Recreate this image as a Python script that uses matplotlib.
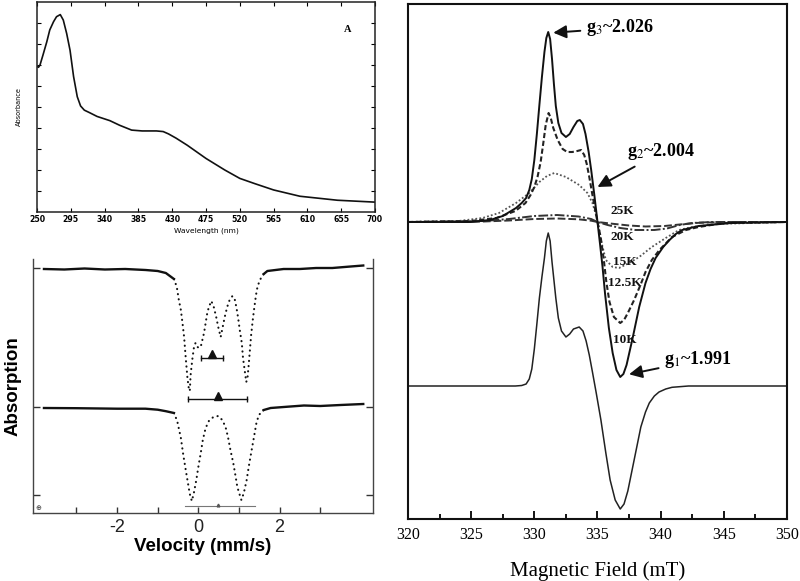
import matplotlib
matplotlib.use("Agg")
import matplotlib.pyplot as plt
import numpy as np

plt.rcParams["mathtext.fontset"] = "stix"

# ---------------- Panel A: UV-vis ----------------
uv_wavelength = [250, 252, 254, 258, 263, 267, 272, 276, 281, 285, 289.5, 294, 298.7,
                 303.6, 308, 313, 320, 330, 347, 360, 376, 390, 409, 418, 425, 435,
                 450, 475, 500, 520, 540, 565, 600, 650, 700]
uv_absorbance = [0.694, 0.689, 0.70, 0.748, 0.81, 0.867, 0.906, 0.93, 0.94, 0.914, 0.85,
                 0.77, 0.645, 0.549, 0.505, 0.485, 0.473, 0.455, 0.435, 0.413, 0.39,
                 0.386, 0.386, 0.383, 0.372, 0.352, 0.318, 0.255, 0.20, 0.16, 0.135,
                 0.105, 0.075, 0.056, 0.047]
uv_xticks = [250, 295, 340, 385, 430, 475, 520, 565, 610, 655, 700]

# ---------------- Panel B: Mossbauer ----------------
mb_top_base_left_v = [-3.8, -3.3, -2.8, -2.3, -1.8, -1.3, -1.0, -0.8, -0.6]
mb_top_base_left_y = [0.0, -0.005, 0.005, -0.005, 0.0, -0.01, -0.02, -0.04, -0.10]
mb_top_dip_v = [-0.60, -0.53, -0.48, -0.43, -0.39, -0.35, -0.31, -0.27, -0.24, -0.21,
                -0.19, -0.15, -0.11, -0.07, -0.02, 0.02, 0.07, 0.14, 0.18, 0.22, 0.26,
                0.32, 0.38, 0.44, 0.49, 0.55, 0.60, 0.65, 0.71, 0.77, 0.84, 0.90, 0.94,
                0.98, 1.02, 1.07, 1.10, 1.14, 1.18, 1.21, 1.24, 1.27, 1.30, 1.34, 1.38,
                1.42, 1.46, 1.53, 1.61]
mb_top_dip_y = [-0.10, -0.18, -0.31, -0.41, -0.54, -0.68, -0.89, -1.08, -1.18, -1.22,
                -1.06, -0.91, -0.79, -0.74, -0.78, -0.79, -0.76, -0.64, -0.54, -0.44,
                -0.38, -0.32, -0.38, -0.48, -0.58, -0.68, -0.58, -0.48, -0.38, -0.31,
                -0.27, -0.31, -0.39, -0.49, -0.61, -0.74, -0.89, -1.01, -1.13, -1.09,
                -0.96, -0.81, -0.66, -0.51, -0.38, -0.26, -0.17, -0.10, -0.05]
mb_top_base_right_v = [1.61, 1.7, 2.1, 2.5, 2.9, 3.3, 3.75, 4.06]
mb_top_base_right_y = [-0.05, -0.02, 0.0, 0.0, 0.01, 0.01, 0.025, 0.035]

mb_bot_base_left_v = [-3.8, -3.0, -2.0, -1.3, -1.0, -0.8, -0.6]
mb_bot_base_left_y = [0.0, -0.002, -0.007, -0.007, -0.017, -0.032, -0.05]
mb_bot_dip_v = [-0.60, -0.52, -0.43, -0.37, -0.31, -0.26, -0.21, -0.16, -0.11, -0.05,
                0.00, 0.06, 0.11, 0.18, 0.26, 0.37, 0.49, 0.59, 0.67, 0.73, 0.79, 0.86,
                0.92, 0.96, 1.02, 1.06, 1.12, 1.19, 1.24, 1.30, 1.37, 1.43, 1.49, 1.61]
mb_bot_dip_y = [-0.05, -0.13, -0.30, -0.47, -0.62, -0.74, -0.86, -0.93, -0.85, -0.72,
                -0.59, -0.45, -0.32, -0.20, -0.13, -0.09, -0.08, -0.12, -0.19, -0.29,
                -0.42, -0.55, -0.69, -0.79, -0.87, -0.92, -0.85, -0.72, -0.59, -0.45,
                -0.29, -0.15, -0.07, -0.02]
mb_bot_base_right_v = [1.61, 1.78, 2.2, 2.6, 3.0, 3.5, 4.06]
mb_bot_base_right_y = [-0.02, 0.0, 0.013, 0.025, 0.02, 0.03, 0.04]

mb_top_offset = 2.44
mb_bot_offset = 1.05
mb_doublet_center = [0.33, 0.48]
mb_doublet_qs = [0.55, 1.45]
mb_doublet_level = [1.553, 1.137]
mb_bottom_bar = [-0.32, 1.40]

# ---------------- Panel C: EPR ----------------
epr_10K_B = [320, 325, 326.5, 327.5, 328.55, 329.0, 329.35, 329.6, 329.8, 330.0, 330.2,
             330.4, 330.6, 330.8, 330.95, 331.1, 331.25, 331.4, 331.55, 331.7, 331.9,
             332.15, 332.5, 332.8, 333.1, 333.4, 333.6, 333.85, 334.05, 334.3, 334.5,
             334.75, 335.0, 335.2, 335.4, 335.6, 335.9, 336.2, 336.5, 336.8, 337.05,
             337.3, 337.8, 338.3, 338.8, 339.2, 339.6, 340.2, 340.7, 341.2, 341.7, 343,
             345.6, 350]
epr_10K_I = [0, 0, 0.02, 0.06, 0.14, 0.19, 0.24, 0.32, 0.43, 0.62, 0.88, 1.17, 1.45, 1.70,
             1.84, 1.90, 1.83, 1.63, 1.38, 1.16, 0.99, 0.89, 0.85, 0.88, 0.95, 1.01, 1.02,
             0.98, 0.88, 0.70, 0.52, 0.27, 0.0, -0.22, -0.45, -0.72, -1.06, -1.31, -1.48,
             -1.55, -1.52, -1.43, -1.15, -0.85, -0.61, -0.47, -0.36, -0.25, -0.18, -0.12,
             -0.08, -0.04, -0.01, 0]

epr_125K_B = [320, 325, 327, 328.5, 329.3, 329.7, 330.0, 330.25, 330.5, 330.7, 330.9,
              331.13, 331.3, 331.5, 331.85, 332.24, 332.6, 333.0, 333.4, 333.7, 333.95,
              334.15, 334.35, 334.6, 334.8, 335.0, 335.25, 335.5, 335.7, 335.95, 336.3,
              336.8, 337.1, 337.4, 337.9, 338.4, 338.8, 339.3, 339.9, 340.9, 342.0, 343,
              345, 350]
epr_125K_I = [0, 0.01, 0.04, 0.11, 0.19, 0.27, 0.35, 0.45, 0.60, 0.78, 0.97, 1.09, 1.04,
              0.94, 0.82, 0.73, 0.70, 0.70, 0.71, 0.72, 0.67, 0.58, 0.45, 0.27, 0.13, 0.0,
              -0.15, -0.38, -0.60, -0.80, -0.95, -1.01, -0.98, -0.91, -0.78, -0.63, -0.50,
              -0.38, -0.28, -0.15, -0.08, -0.05, -0.01, 0]

epr_15K_B = [320, 324, 325.9, 327.2, 328.55, 329.6, 330.4, 331.0, 331.58, 332.5, 333.55,
             334.2, 334.6, 335.0, 335.27, 335.66, 336.2, 336.7, 337.5, 338.3, 339.3,
             340.4, 341.45, 342.5, 344.35, 350]
epr_15K_I = [0, 0.01, 0.04, 0.09, 0.19, 0.29, 0.40, 0.46, 0.49, 0.45, 0.37, 0.29, 0.19,
             0.02, -0.18, -0.38, -0.45, -0.46, -0.41, -0.35, -0.25, -0.16, -0.08, -0.05,
             -0.02, 0]

epr_20K_B = [320, 326, 328, 330, 331.8, 333.5, 334.5, 335.0, 335.8, 336.8, 338, 339.5,
             340.5, 341.5, 342.5, 344, 350]
epr_20K_I = [0, 0.01, 0.03, 0.06, 0.07, 0.055, 0.03, 0, -0.03, -0.06, -0.08, -0.08,
             -0.065, -0.03, -0.01, 0, 0]

epr_25K_B = [320, 326, 328, 330, 331.8, 333.5, 334.5, 335, 336, 337.5, 338.8, 340.3,
             341.5, 343, 345, 350]
epr_25K_I = [0, 0.005, 0.015, 0.03, 0.035, 0.027, 0.013, 0, -0.015, -0.035, -0.045,
             -0.04, -0.025, -0.008, 0, 0]

epr_sim_B = [320, 328.5, 329.0, 329.35, 329.6, 329.8, 330.0, 330.2, 330.4, 330.6, 330.8,
             330.95, 331.1, 331.25, 331.4, 331.55, 331.7, 331.9, 332.15, 332.5, 332.8,
             333.1, 333.55, 333.85, 334.1, 334.35, 334.6, 334.9, 335.27, 335.66, 336.0,
             336.4, 336.8, 337.1, 337.4, 337.9, 338.43, 338.8, 339.1, 339.5, 339.87,
             340.4, 340.9, 342.2, 350]
epr_sim_I = [0, 0, 0.005, 0.02, 0.07, 0.17, 0.37, 0.62, 0.88, 1.09, 1.28, 1.45, 1.53,
             1.45, 1.24, 1.06, 0.88, 0.68, 0.55, 0.49, 0.52, 0.57, 0.59, 0.55, 0.45, 0.31,
             0.14, -0.07, -0.34, -0.67, -0.94, -1.14, -1.23, -1.18, -1.05, -0.74, -0.41,
             -0.26, -0.17, -0.10, -0.06, -0.03, -0.013, 0, 0]

epr_top_offset = 2.97
epr_sim_offset = 1.33
epr_temps = ["25K", "20K", "15K", "12.5K", "10K"]
epr_temp_B = [336.06, 336.06, 336.19, 335.8, 336.19]
epr_temp_y = [3.083, 2.823, 2.573, 2.36, 1.79]
epr_xticks = [320, 325, 330, 335, 340, 345, 350]

# ======================================================
W, H = 800, 581
fig = plt.figure(figsize=(8, 5.81), dpi=100)


def rect(l, t, r, b):
    return [l / W, 1 - b / H, (r - l) / W, (b - t) / H]


# ---------- Panel A ----------
axA = fig.add_axes(rect(37, 2, 375, 212))
axA.plot(uv_wavelength, uv_absorbance, color="#111111", lw=1.2)
axA.set_xlim(250, 700)
axA.set_ylim(0, 1)
axA.set_xticks(uv_xticks)
axA.set_xticklabels([str(t) for t in uv_xticks], fontsize=5.6, fontweight="bold",
                    family="DejaVu Sans")
axA.set_yticks(np.arange(0.1, 1.0, 0.1))
axA.set_yticklabels([])
axA.tick_params(direction="in", length=3, width=0.8, top=True, right=True, pad=2)
for s in axA.spines.values():
    s.set_linewidth(1.1)
    s.set_color("#222222")
axA.set_xlabel("Wavelength (nm)", fontsize=5.4, labelpad=3, family="DejaVu Sans")
axA.set_ylabel("Absorbance", fontsize=4.7, labelpad=9, family="DejaVu Sans")
axA.text(664, 0.867, "A", fontsize=7.5, fontweight="bold", family="Liberation Serif",
         ha="center", va="center")

# ---------- Panel B ----------
axB = fig.add_axes(rect(33, 259, 373, 513))
dotted = (0, (0.1, 2.4))
kw_base = dict(color="#111111", lw=1.7)
kw_dot = dict(color="#111111", lw=1.5, linestyle=dotted, dash_capstyle="round")
axB.plot(mb_top_base_left_v, np.array(mb_top_base_left_y) + mb_top_offset, **kw_base)
axB.plot(mb_top_dip_v, np.array(mb_top_dip_y) + mb_top_offset, **kw_dot)
axB.plot(mb_top_base_right_v, np.array(mb_top_base_right_y) + mb_top_offset, **kw_base)
axB.plot(mb_bot_base_left_v, np.array(mb_bot_base_left_y) + mb_bot_offset, **kw_base)
axB.plot(mb_bot_dip_v, np.array(mb_bot_dip_y) + mb_bot_offset, **kw_dot)
axB.plot(mb_bot_base_right_v, np.array(mb_bot_base_right_y) + mb_bot_offset, **kw_base)
for c, qs, lev in zip(mb_doublet_center, mb_doublet_qs, mb_doublet_level):
    axB.plot([c - qs / 2, c + qs / 2], [lev, lev], color="#111111", lw=1.0)
    axB.plot([c - qs / 2, c + qs / 2], [lev, lev], color="#111111", lw=0,
             marker="|", markersize=5, markeredgewidth=1.0)
    axB.plot([c], [lev + 0.035], marker="^", color="#111111", markersize=5.5, lw=0)
axB.plot(mb_bottom_bar, [0.073, 0.073], color="#777777", lw=0.8)
axB.plot([0.48], [0.085], marker="^", color="#555555", markersize=2, lw=0)
axB.text(-4.0, 0.02, "⊕", fontsize=5, ha="left", va="bottom", color="#333333")

axB.set_xlim(-4.07, 4.3)
axB.set_ylim(0, 2.54)
axB.set_xticks([-3, -2, -1, 0, 1, 2, 3])
axB.set_xticklabels(["", "-2", "", "0", "", "2", ""], fontsize=13,
                    family="Liberation Sans")
axB.set_yticks([0.18, 1.06, 2.45])
axB.set_yticklabels([])
axB.tick_params(axis="x", direction="in", length=4, width=1, pad=4, colors="#333333",
                labelcolor="#222222")
axB.tick_params(axis="y", direction="in", length=5, width=1, right=True, colors="#333333")
axB.spines["top"].set_visible(False)
for k in ["left", "right", "bottom"]:
    axB.spines[k].set_color("#444444")
    axB.spines[k].set_linewidth(1.0)
axB.set_xlabel("Velocity (mm/s)", fontsize=13.5, fontweight="bold",
               family="Liberation Sans", labelpad=2)
axB.set_ylabel("Absorption", fontsize=13.5, fontweight="bold",
               family="Liberation Sans", labelpad=5)

# ---------- Panel C ----------
axC = fig.add_axes(rect(408, 4, 787, 519))
axC.plot(epr_25K_B, np.array(epr_25K_I) + epr_top_offset, color="#333333", lw=1.4,
         linestyle=(0, (4, 1.5)))
axC.plot(epr_20K_B, np.array(epr_20K_I) + epr_top_offset, color="#333333", lw=1.4,
         linestyle=(0, (5, 1.2, 1, 1.2)))
axC.plot(epr_15K_B, np.array(epr_15K_I) + epr_top_offset, color="#555555", lw=1.3,
         linestyle=(0, (1, 1.2)))
axC.plot(epr_125K_B, np.array(epr_125K_I) + epr_top_offset, color="#222222", lw=1.5,
         linestyle=(0, (2.5, 1.3)))
axC.plot(epr_10K_B, np.array(epr_10K_I) + epr_top_offset, color="#111111", lw=1.4)
axC.plot(epr_sim_B, np.array(epr_sim_I) + epr_sim_offset, color="#222222", lw=1.1)

for lab, bx, by in zip(epr_temps, epr_temp_B, epr_temp_y):
    axC.text(bx, by, lab, fontsize=9.5, fontweight="bold", family="Liberation Serif",
             ha="left", va="center", color="#111111")

arrow = dict(arrowstyle="-|>,head_length=0.6,head_width=0.3", color="#111111", lw=1.4,
             shrinkA=2, shrinkB=0)
axC.annotate("g$_3$~2.026", xy=(331.5, 4.863), xytext=(334.08, 4.91),
             fontsize=13, fontweight="bold", family="Liberation Serif",
             ha="left", va="center", arrowprops=arrow)
axC.annotate("g$_2$~2.004", xy=(335.0, 3.32), xytext=(337.37, 3.67),
             fontsize=13, fontweight="bold", family="Liberation Serif",
             ha="left", va="center", arrowprops=arrow)
axC.annotate("g$_1$~1.991", xy=(337.5, 1.447), xytext=(340.27, 1.59),
             fontsize=13, fontweight="bold", family="Liberation Serif",
             ha="left", va="center", arrowprops=arrow)

axC.set_xlim(320, 350)
axC.set_ylim(0, 5.15)
axC.set_xticks(epr_xticks)
axC.set_xticks(np.arange(322.5, 350, 5), minor=True)
axC.set_xticklabels([str(t) for t in epr_xticks], fontsize=11.5, family="Liberation Serif")
axC.set_yticks([])
axC.tick_params(axis="x", which="major", direction="in", length=6, width=1.3, pad=6)
axC.tick_params(axis="x", which="minor", direction="in", length=3.5, width=1.3)
for s in axC.spines.values():
    s.set_linewidth(1.5)
    s.set_color("#111111")
axC.set_xlabel("Magnetic Field (mT)", fontsize=15, family="Liberation Serif", labelpad=13)

fig.savefig("out.png", dpi=100)
